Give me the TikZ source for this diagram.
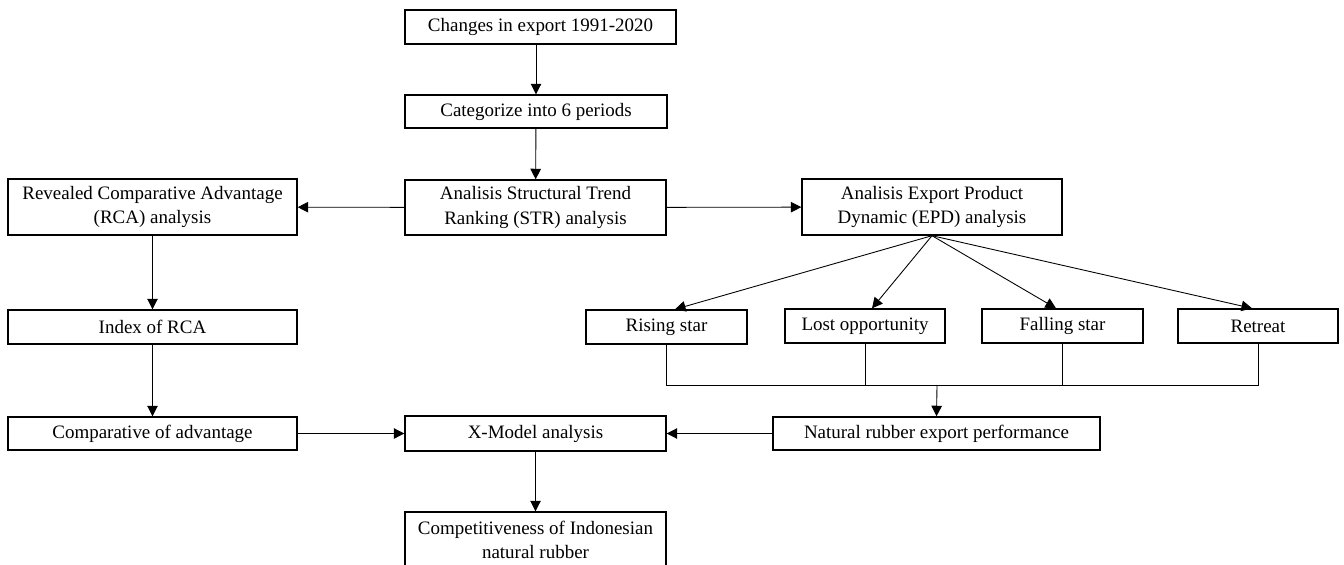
\documentclass[tikz,border=0pt]{standalone}
\usepackage{fontspec}
\setmainfont{Liberation Serif}
\usetikzlibrary{arrows.meta}
\tikzset{
    box/.style={draw, line width=0.8pt, inner sep=0pt, align=center, minimum height=0.68cm},
    arr/.style={-{Triangle[length=6pt,width=6pt]}, line width=0.5pt},
    ln/.style={line width=0.5pt}
}
\begin{document}
\begin{tikzpicture}[x=0.02cm, y=-0.02cm, font=\fontsize{10.8}{14}\selectfont]
            \useasboundingbox (0,0) rectangle (1344,564);
            \clip (0,0) rectangle (1344,564);
            \node[box, minimum width=5.42cm] (chg) at (540.5, 27) {Changes in export 1991-2020};
            \node[box, minimum width=5.24cm, minimum height=0.66cm] (cat) at (536, 111.5) {Categorize into 6 periods};
            \node[box, minimum width=5.22cm, minimum height=1.1cm] (str) at (535.5, 207.5) {Analisis Structural Trend\\Ranking (STR) analysis};
            \node[box, minimum width=5.78cm, minimum height=1.12cm] (rca) at (152.5, 207) {Revealed Comparative Advantage\\(RCA) analysis};
            \node[box, minimum width=5.2cm, minimum height=1.12cm] (epd) at (932, 207) {Analisis Export Product\\Dynamic (EPD) analysis};
            \node[box, minimum width=5.78cm] (idx) at (152.5, 327) {Index of RCA};
            \node[box, minimum width=5.78cm, minimum height=0.66cm] (cmp) at (152.5, 433.5) {Comparative of advantage};
            \node[box, minimum width=3.22cm] (rise) at (666.5, 327) {Rising star};
            \node[box, minimum width=3.2cm] (lost) at (865, 326) {Lost opportunity};
            \node[box, minimum width=3.22cm] (fall) at (1062.5, 326) {Falling star};
            \node[box, minimum width=3.2cm] (retr) at (1258, 326) {Retreat};
            \node[box, minimum width=6.54cm, minimum height=0.66cm] (nat) at (936.5, 433.5) {Natural rubber export performance};
            \node[box, minimum width=5.22cm, minimum height=0.7cm] (xm) at (535.5, 433.5) {X-Model analysis};
            \node[box, minimum width=5.22cm, minimum height=1.12cm] (comp) at (535.5, 540) {Competitiveness of Indonesian\\natural rubber};
            \coordinate (bus) at (937, 385);
            \draw[arr] (cat.north |- chg.south) -- (cat.north);
            \draw[arr] (cat) -- (str);
            \draw[arr] (str) -- (rca);
            \draw[arr] (str) -- (epd);
            \draw[arr] (rca) -- (idx);
            \draw[arr] (idx) -- (cmp);
            \draw[arr] (epd.south) -- ([xshift=0.17cm]rise.north);
            \draw[arr] (epd.south) -- ([xshift=0.14cm]lost.north);
            \draw[arr] (epd.south) -- ([xshift=-0.13cm]fall.north);
            \draw[arr] (epd.south) -- ([xshift=-0.12cm]retr.north);
            \draw[ln] (rise.south) -- (rise.south |- bus) -- (retr.south |- bus) -- (retr.south);
            \draw[ln] (lost.south) -- (lost.south |- bus);
            \draw[ln] (fall.south) -- (fall.south |- bus);
            \draw[arr] (bus) -- (nat.north);
            \draw[arr] (cmp) -- (xm);
            \draw[arr] (nat) -- (xm);
            \draw[arr] (xm) -- (comp);
        \end{tikzpicture}
\end{document}
